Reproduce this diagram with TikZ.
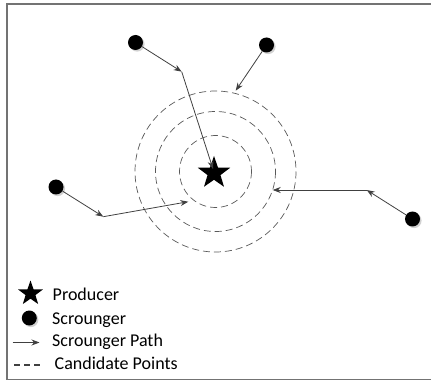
\documentclass[tikz,border=0pt]{standalone}
\usepackage{fontspec}
\setmainfont{Carlito}
\usetikzlibrary{arrows.meta,shapes.geometric,shadows}
\begin{document}
\begin{tikzpicture}[x=1pt,y=-1pt,
  scr/.style={circle,fill=black,minimum size=15pt,inner sep=0pt,
    drop shadow={shadow xshift=1.6pt,shadow yshift=-1.6pt,fill=black!18,opacity=1}},
  prod/.style={star,star points=5,star point ratio=2.5,fill=black,inner sep=0pt,minimum size=#1},
  spath/.style={draw=black!75,line width=0.8pt,-{Stealth[length=8pt,width=6pt]}},
  cand/.style={draw=black!65,line width=0.7pt,dash pattern=on 7pt off 4pt},
  lbl/.style={anchor=base west,inner sep=0pt,font=\fontsize{18}{20}\selectfont}]
\useasboundingbox (0,0) rectangle (431,382);
% frame
\draw[black!55,line width=1.5pt] (432,3.8) -- (7,3.8) -- (7,379.6) -- (432,379.6);

% candidate circles
\coordinate (c) at (215.5,171.5);
\draw[cand] (c) circle[radius=36];
\draw[cand] (c) circle[radius=60];
\draw[cand] (c) circle[radius=80.5];

% producer
\node[prod=34pt] (p) at (214,173) {};

% scroungers
\node[scr] (d1) at (135.5,42.5) {};
\node[scr] (d2) at (266.5,45) {};
\node[scr] (d3) at (56,187) {};
\node[scr] (d4) at (412.5,219) {};

% waypoints
\coordinate (w1) at (181.7,71.7);
\coordinate (w3) at (103.3,216.7);
\coordinate (w4) at (366.7,190);
\coordinate (t2) at (235.7,90.7);
\coordinate (t3) at (188.3,201.7);
\coordinate (t4) at (272.7,190);
\coordinate (t1) at (213,169);

\draw[spath] (d1) -- (w1);
\draw[spath] (w1) -- (t1);
\draw[spath] (d2) -- (t2);
\draw[spath] (d3) -- (w3);
\draw[spath] (w3) -- (t3);
\draw[spath] (d4) -- (w4);
\draw[spath] (w4) -- (t4);

% legend
\node[prod=26pt] (lp) at (30.5,293.5) {};
\node[scr] (ls) at (29.3,318) {};
\coordinate (la1) at (12.7,342.5);
\coordinate (la2) at (39.5,342.5);
\draw[spath] (la1) -- (la2);
\coordinate (lc1) at (14,365);
\coordinate (lc2) at (42,365);
\draw[black!75,line width=2pt,dash pattern=on 6pt off 4pt] (lc1) -- (lc2);

\node[lbl] (t-prod) at (52.5,300) {Producer};
\node[lbl] (t-scr) at (52,324) {Scrounger};
\node[lbl] (t-path) at (52,346) {Scrounger Path};
\node[lbl] (t-cand) at (54.5,369.5) {Candidate Points};
\end{tikzpicture}
\end{document}
